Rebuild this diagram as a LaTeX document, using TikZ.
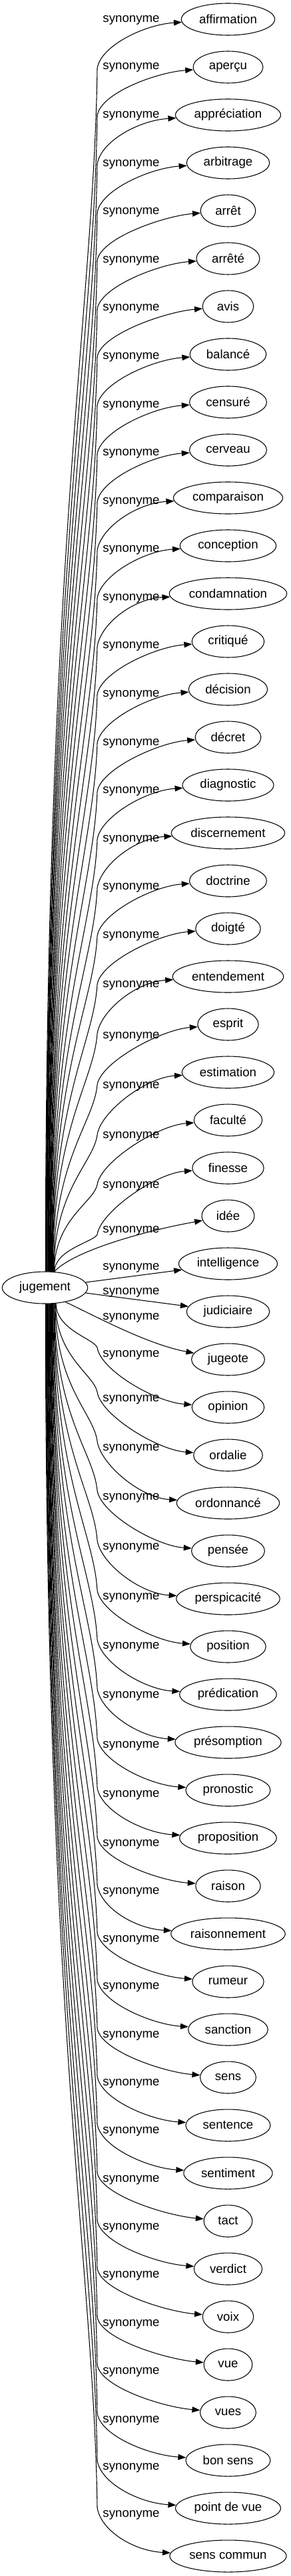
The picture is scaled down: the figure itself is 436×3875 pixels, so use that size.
\documentclass[tikz,border=0pt]{standalone}
\usepackage{fontspec}
\setmainfont{Liberation Sans}
\usetikzlibrary{calc}
\usetikzlibrary{shapes.geometric}
\usetikzlibrary{arrows.meta}

\tikzset{
  word/.style={ellipse, draw, line width=0.8pt, inner sep=0pt, minimum height=36pt,
    minimum width={1.19*width("#1")+27.7pt}},
  rel/.style={anchor=mid},
  link/.style={line width=0.8pt, -{Triangle[length=9pt,width=6.5pt]}}
}

\begin{document}
\fontsize{14}{17}\selectfont
\begin{tikzpicture}[x=0.75pt,y=-0.75pt]
\path (0,0) rectangle (436,3875);

\node[word=jugement] (jug) at (67.5,1937) {jugement};

% upper half
\foreach \i/\t/\ly in {1/affirmation/29, 2/aperçu/100, 3/appréciation/173,
  4/arbitrage/246, 5/arrêt/318, 6/arrêté/391, 7/avis/463, 8/balancé/536,
  9/censuré/609, 10/cerveau/681, 11/comparaison/754, 12/conception/826,
  13/condamnation/899, 14/critiqué/971, 15/décision/1044, 16/décret/1117,
  17/diagnostic/1189, 18/discernement/1262, 19/doctrine/1334, 20/doigté/1407,
  21/entendement/1481, 22/esprit/1558, 23/estimation/1633, 24/faculté/1708,
  25/finesse/1783}{
  \pgfmathsetmacro\ty{29+72*(\i-1)}
  \pgfmathtruncatemacro\a{88-(\i-1)*1.2}
  \pgfmathsetmacro\by{\ly+74}
  \pgfmathsetmacro\ca{0.6*(1913-\by)}
  \pgfmathsetmacro\cb{\by+0.2*(1913-\by)}
  \pgfmathsetmacro\cc{\ly+40}
  \node[word=\t] (syn\i) at (342.5,\ty) {\t};
  \node[rel] (lab\i) at (197,\ly) {synonyme};
  \draw[link] (jug.\a) .. controls ($(jug.\a)+(0,-\ca)$) and (141,\cb) .. (146,\by)
    .. controls (151,\cc) and ($(syn\i.west)+(-55,8)$) .. (syn\i);
}

% middle
\node[word=idée] (syn26) at (342.5,1829) {idée};
\node[rel] (lab26) at (197,1850) {synonyme};
\draw[link] (jug.60) .. controls (110,1882) and (215,1852) .. (syn26);

\node[word=intelligence] (syn27) at (342.5,1901) {intelligence};
\node[rel] (lab27) at (197,1906) {synonyme};
\draw[link] (jug) -- (syn27);

\node[word=judiciaire] (syn28) at (342.5,1973) {judiciaire};
\node[rel] (lab28) at (197,1943) {synonyme};
\draw[link] (jug) -- (syn28);

\node[word=jugeote] (syn29) at (342.5,2045) {jugeote};
\node[rel] (lab29) at (197,1981) {synonyme};
\draw[link] (jug.-35) .. controls (140,1978) and (220,2022) .. (syn29);

% lower half
\foreach \i/\t/\ly in {30/opinion/2037, 31/ordalie/2104, 32/ordonnancé/2178,
  33/pensée/2252, 34/perspicacité/2327, 35/position/2402, 36/prédication/2476,
  37/présomption/2550, 38/pronostic/2625, 39/proposition/2699, 40/raison/2773,
  41/raisonnement/2845, 42/rumeur/2917, 43/sanction/2988, 44/sens/3061,
  45/sentence/3133, 46/sentiment/3205, 47/tact/3278, 48/verdict/3350,
  49/voix/3422, 50/vue/3495, 51/vues/3567, 52/bon sens/3640,
  53/point de vue/3711, 54/sens commun/3782}{
  \pgfmathsetmacro\ty{29+72*(\i-1)}
  \pgfmathtruncatemacro\a{-55-(\i-30)*1.375}
  \pgfmathsetmacro\by{\ly-10}
  \pgfmathsetmacro\ca{0.6*(\by-1961)}
  \pgfmathsetmacro\cb{\by-0.2*(\by-1961)}
  \pgfmathsetmacro\cc{\ly+24}
  \node[word=\t] (syn\i) at (342.5,\ty) {\t};
  \node[rel] (lab\i) at (197,\ly) {synonyme};
  \draw[link] (jug.\a) .. controls ($(jug.\a)+(0,\ca)$) and (141,\cb) .. (146,\by)
    .. controls (151,\cc) and ($(syn\i.west)+(-55,-8)$) .. (syn\i);
}
\end{tikzpicture}
\end{document}
